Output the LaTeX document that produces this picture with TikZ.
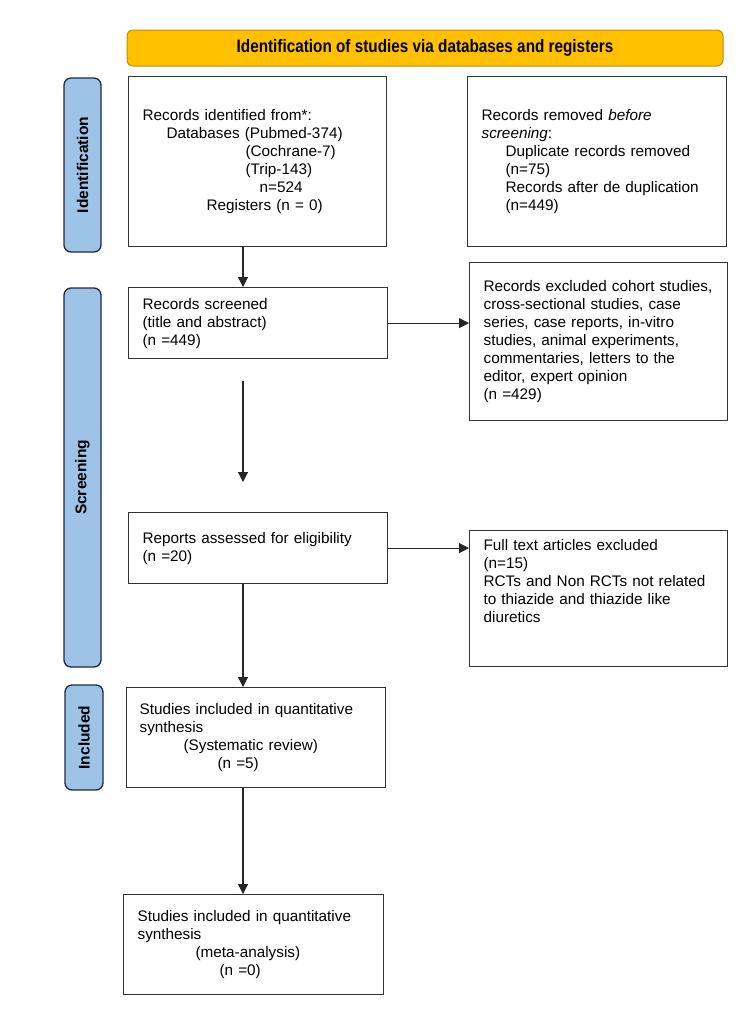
\documentclass[tikz,border=0pt]{standalone}
\usepackage{fontspec}
\setmainfont{Liberation Sans}
\newfontfamily\narrowfont[FakeStretch=0.85]{Liberation Sans}
\usetikzlibrary{arrows.meta,calc,positioning}
\definecolor{headfill}{HTML}{FFC000}
\definecolor{headline}{HTML}{BF9000}
\definecolor{sidefill}{HTML}{9DC3E6}
\definecolor{sideline}{HTML}{1F2A44}

\begin{document}
\begin{tikzpicture}[x=1pt,y=-1pt,
    box/.style={draw=black!80,line width=1.2pt,anchor=north west,align=left,
      inner xsep=14pt,inner ysep=0pt,font=\fontsize{15.3}{18}\selectfont},
    phase/.style={draw=sideline,fill=sidefill,line width=1.3pt,rounded corners=7pt,
      rotate=90,inner sep=0pt,font=\bfseries\fontsize{15.5}{18}\selectfont},
    head/.style={draw=headline,fill=headfill,line width=1pt,rounded corners=6pt,
      font=\narrowfont\bfseries\fontsize{18}{20}\selectfont},
    arr/.style={-{Triangle[length=10pt,width=10pt]},line width=1.1pt,black!85}]
    \useasboundingbox (0,0) rectangle (750,1021);

    \node[head,minimum width=596pt,minimum height=36pt] (title) at (425,48)
      {Identification of studies via databases and registers};

    \node[phase,minimum width=174pt,minimum height=37pt] (sideA) at (82.5,165) {Identification};
    \node[phase,minimum width=379pt,minimum height=37pt] (sideB) at (82.5,477.5) {Screening};
    \node[phase,minimum width=105pt,minimum height=38pt] (sideC) at (84,737.5) {Included};

    \node[box,text width=230pt,minimum height=170pt] (ident) at (128,76)
      {Records identified from*:\\
       \hspace*{24pt}Databases (Pubmed-374)\\
       \hspace*{103pt}(Cochrane-7)\\
       \hspace*{103pt}(Trip-143)\\
       \hspace*{117pt}n=524\\
       \hspace*{64pt}Registers (n = 0)};
    \node[box,text width=231pt,minimum height=170pt] (removed) at (467,76)
      {Records removed \textit{before}\\
       \textit{screening}:\\
       \hspace*{24pt}Duplicate records removed\\
       \hspace*{24pt}(n=75)\\
       \hspace*{24pt}Records after de duplication\\
       \hspace*{24pt}(n=449)};
    \node[box,text width=231pt,minimum height=71pt] (screen) at (128,287)
      {Records screened\\(title and abstract)\\(n =449)};
    \node[box,text width=230pt,minimum height=158pt] (excl) at (469,262)
      {Records excluded cohort studies,\\cross-sectional studies, case\\series, case reports, in-vitro\\
       studies, animal experiments,\\commentaries, letters to the\\editor, expert opinion\\(n =429)};
    \node[box,text width=231pt,minimum height=71pt] (assess) at (128,512)
      {Reports assessed for eligibility\\(n =20)};
    \node[box,text width=230pt,minimum height=136pt] (fulltext) at (469,530)
      {Full text articles excluded\\(n=15)\\RCTs and Non RCTs not related\\to thiazide and thiazide like\\
       diuretics\\\mbox{}\\\mbox{}};
    \node[box,inner xsep=13pt,text width=233pt,minimum height=100pt] (review) at (126,687)
      {Studies included in quantitative\\synthesis\\
       \hspace*{44pt}(Systematic review)\\
       \hspace*{78pt}(n =5)\\[8pt]};
    \node[box,text width=232pt,minimum height=100pt] (meta) at (123,894)
      {Studies included in quantitative\\synthesis\\
       \hspace*{58pt}(meta-analysis)\\
       \hspace*{82pt}(n =0)\\[8pt]};

    \coordinate (spine) at (243,0);
    \coordinate (gapA) at (243,381);
    \coordinate (gapB) at (243,482);
    \draw[arr] (ident.south -| spine) -- (screen.north -| spine);
    \draw[arr] (screen.east) -- (screen.east -| excl.west);
    \draw[arr] (gapA) -- (gapB);
    \draw[arr] (assess.east) -- (assess.east -| fulltext.west);
    \draw[arr] (assess.south -| spine) -- (review.north -| spine);
    \draw[arr] (review.south -| spine) -- (meta.north -| spine);
\end{tikzpicture}
\end{document}
